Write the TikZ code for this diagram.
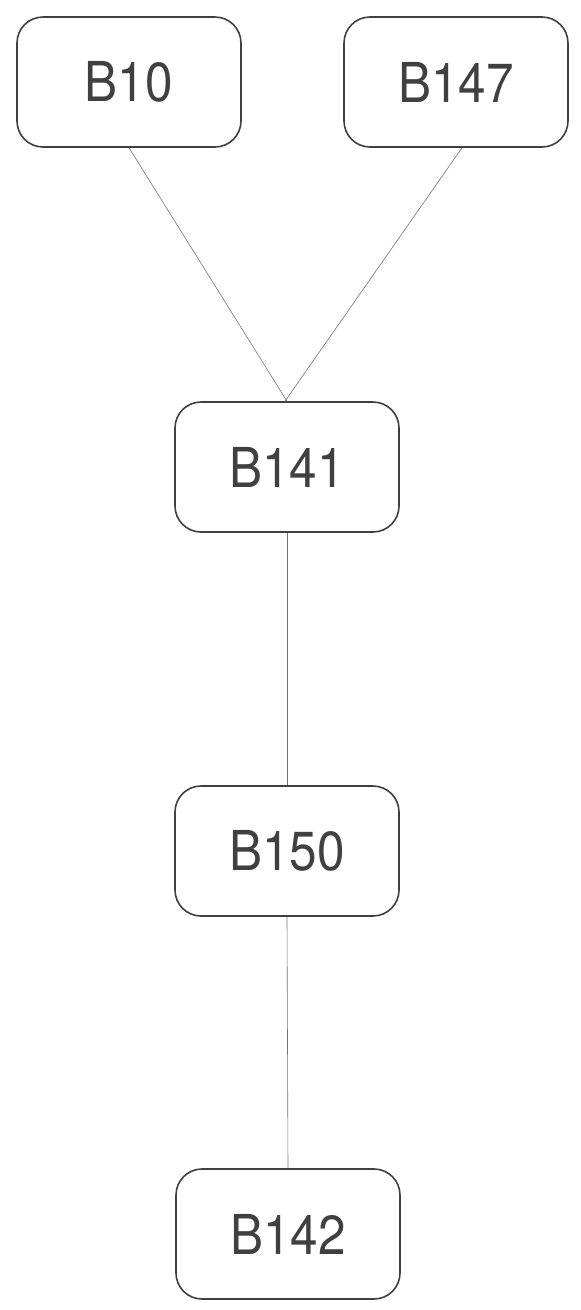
\documentclass[tikz,border=0pt]{standalone}
\usepackage{fontspec}
\setmainfont[FakeStretch=0.9]{TeX Gyre Heros}
\begin{document}
\begin{tikzpicture}[x=1pt,y=-1pt,
  box/.style={draw=black!75, line width=1.6pt, rounded corners=26pt, fill=white,
    minimum width=224pt, minimum height=130pt, inner sep=0pt,
    text=black!75, font=\fontsize{55}{60}\selectfont},
  link/.style={draw=black!55, line width=0.6pt}]
\useasboundingbox (0,0) rectangle (581,1310);
\node[box] (b10) at (129,82) {\raisebox{-4pt}{B10}};
\node[box] (b147) at (456,82) {\raisebox{-4pt}{B147}};
\node[box] (b141) at (287,467) {\raisebox{-4pt}{B141}};
\node[box] (b150) at (287,851) {\raisebox{-4pt}{B150}};
\node[box] (b142) at (288,1234) {\raisebox{-4pt}{B142}};
\draw[link] (b10.south) -- (b141.north);
\draw[link] ([xshift=6pt]b147.south) -- ([xshift=-2pt]b141.north);
\draw[link] (b141.south) -- (b150.north);
\draw[link] (b150.south) -- (b142.north);
\end{tikzpicture}
\end{document}
